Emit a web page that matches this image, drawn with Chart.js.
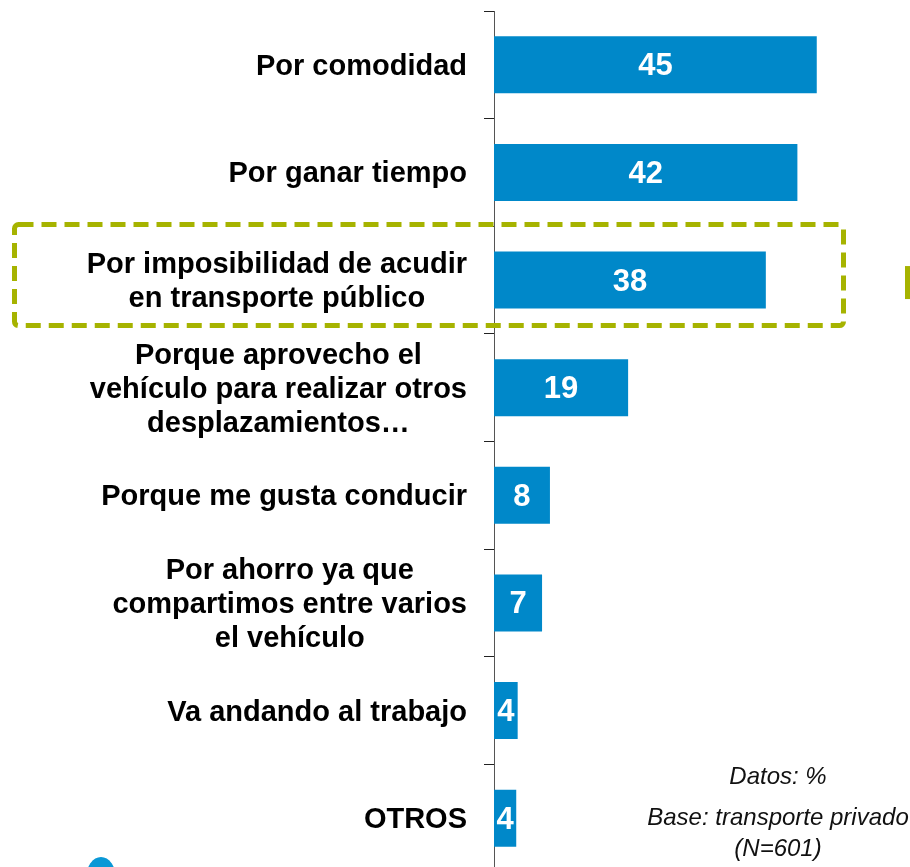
<!DOCTYPE html>
<html>
<head>
<meta charset="utf-8">
<script src="https://cdn.jsdelivr.net/npm/chart.js@4/dist/chart.umd.min.js"></script>
<style>
  html, body { margin: 0; padding: 0; background: #fff; overflow: hidden; }
  #wrap { width: 910px; height: 867px; overflow: hidden; }
</style>
</head>
<body>
<div id="wrap"><canvas id="chart" width="910" height="880"></canvas></div>
<script>
  // categories (one array per label, lines kept separate)
  var categories = [
    ["Por comodidad"],
    ["Por ganar tiempo"],
    ["Por imposibilidad de acudir", "en transporte público"],
    ["Porque aprovecho el", "vehículo para realizar otros", "desplazamientos…"],
    ["Porque me gusta conducir"],
    ["Por ahorro ya que", "compartimos entre varios", "el vehículo"],
    ["Va andando al trabajo"],
    ["OTROS"]
  ];
  // bar lengths
  var values = [45, 42.3, 37.9, 18.7, 7.8, 6.7, 3.3, 3.1];
  // numbers printed on the bars
  var valueLabels = ["45", "42", "38", "19", "8", "7", "4", "4"];
  var notes = ["Datos: %", "Base: transporte privado", "(N=601)"];

  var blue = "#0088C9";
  var olive = "#A6B300";
  var font = "'Liberation Sans', Arial, sans-serif";

  var labelPlugin = {
    id: "labels",
    afterDatasetsDraw: function (chart) {
      var ctx = chart.ctx;
      var yScale = chart.scales.y;
      var meta = chart.getDatasetMeta(0);

      ctx.save();
      // category labels: lines centred on each other, block right-aligned
      ctx.fillStyle = "#000";
      ctx.font = "bold 29px " + font;
      ctx.textBaseline = "middle";
      ctx.textAlign = "center";
      var lineH = 34;
      var rightEdge = yScale.right - 27;
      categories.forEach(function (lines, i) {
        var yc = yScale.getPixelForTick(i) + 2;
        var widest = 0;
        lines.forEach(function (l) {
          widest = Math.max(widest, ctx.measureText(l).width);
        });
        var cx = rightEdge - widest / 2;
        var y0 = yc - ((lines.length - 1) * lineH) / 2;
        lines.forEach(function (l, k) {
          ctx.fillText(l, cx, y0 + k * lineH);
        });
      });

      // values on bars
      ctx.fillStyle = "#fff";
      ctx.font = "bold 31px " + font;
      meta.data.forEach(function (bar, i) {
        var cx = (bar.base + bar.x) / 2;
        ctx.fillText(valueLabels[i], cx, bar.y + 2);
      });
      ctx.restore();
    },
    afterDraw: function (chart) {
      var ctx = chart.ctx;
      var yScale = chart.scales.y;
      ctx.save();

      // dashed highlight box round the third category
      var yc = yScale.getPixelForTick(2);
      ctx.strokeStyle = olive;
      ctx.lineWidth = 5;
      ctx.setLineDash([15, 8]);
      ctx.beginPath();
      ctx.roundRect(14.5, yc - 55.5, 829, 101, 4);
      ctx.stroke();
      ctx.setLineDash([]);
      ctx.beginPath();
      ctx.moveTo(907.5, yc - 14);
      ctx.lineTo(907.5, yc + 19);
      ctx.stroke();

      // notes, bottom right
      ctx.fillStyle = "#111";
      ctx.font = "italic 24px " + font;
      ctx.textAlign = "center";
      ctx.textBaseline = "middle";
      ctx.fillText(notes[0], 778, 777);
      ctx.fillText(notes[1], 778, 818);
      ctx.fillText(notes[2], 778, 849);

      // cut-off logo at the bottom left
      ctx.fillStyle = "#0A98D6";
      ctx.beginPath();
      ctx.ellipse(101, 878, 15, 21, 0, 0, Math.PI * 2);
      ctx.fill();
      ctx.restore();
    }
  };

  new Chart(document.getElementById("chart"), {
    type: "bar",
    data: {
      labels: categories,
      datasets: [
        {
          data: values,
          backgroundColor: blue,
          borderWidth: 0,
          barPercentage: 0.53,
          categoryPercentage: 1
        }
      ]
    },
    options: {
      indexAxis: "y",
      responsive: false,
      animation: false,
      events: [],
      layout: { padding: { top: 11, bottom: 8, left: 0, right: 0 } },
      plugins: {
        legend: { display: false },
        tooltip: { enabled: false }
      },
      scales: {
        x: {
          display: false,
          min: 0,
          max: 58
        },
        y: {
          offset: true,
          border: { display: true, color: "#555", width: 1 },
          grid: {
            offset: true,
            drawOnChartArea: false,
            drawTicks: true,
            tickLength: 10,
            color: "#222"
          },
          ticks: { display: false },
          afterFit: function (scale) {
            scale.width = 494;
          }
        }
      }
    },
    plugins: [labelPlugin]
  });
</script>
</body>
</html>
